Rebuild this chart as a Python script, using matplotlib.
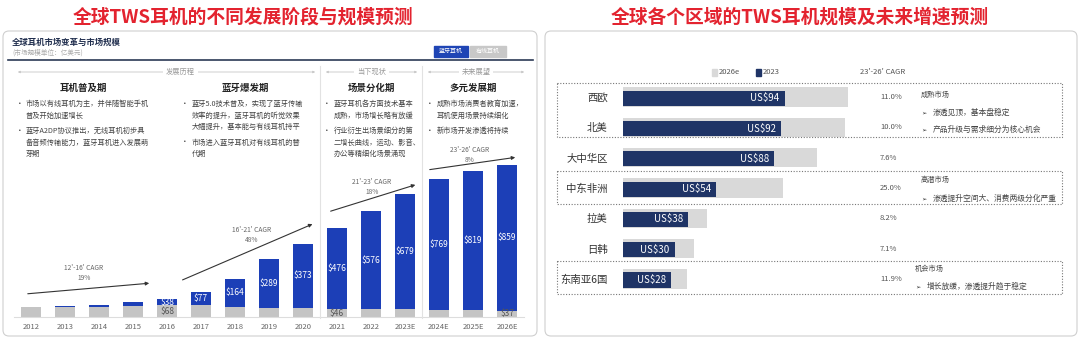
import matplotlib
matplotlib.use("Agg")
import matplotlib.pyplot as plt
from matplotlib import transforms
from matplotlib.patches import FancyBboxPatch, Rectangle

plt.rcParams["font.family"] = ["Noto Sans CJK SC", "DejaVu Sans"]

# ---- left panel data (market size, 100M USD) ----
years = ["2012", "2013", "2014", "2015", "2016", "2017", "2018", "2019", "2020",
         "2021", "2022", "2023E", "2024E", "2025E", "2026E"]
bluetooth = [0, 4, 12, 20, 38, 77, 164, 289, 373, 476, 576, 679, 769, 819, 859]
wired = [57, 60, 60, 66, 68, 70, 60, 53, 55, 46, 47, 45, 41, 39, 37]
wired_shown = ["2016", "2021", "2026E"]

stage_titles = ["耳机普及期", "蓝牙爆发期", "场景分化期", "多元发展期"]
stage_bullets = [
    [["市场以有线耳机为主，并伴随智能手机", "普及开始加速增长"],
     ["蓝牙A2DP协议推出，无线耳机初步具", "备音频传输能力，蓝牙耳机进入发展萌", "芽期"]],
    [["蓝牙5.0技术普及，实现了蓝牙传输", "效率的提升，蓝牙耳机的听觉效果", "大幅提升，基本能与有线耳机持平"],
     ["市场进入蓝牙耳机对有线耳机的替", "代期"]],
    [["蓝牙耳机各方面技术基本", "成熟，市场增长略有放缓"],
     ["行业衍生出场景细分的第", "二增长曲线，运动、影音、", "办公等精细化场景涌现"]],
    [["成熟市场消费者教育加速，", "耳机使用场景持续细化"],
     ["新市场开发渗透将持续"]],
]
cagr_labels = ["12'-16' CAGR\n19%", "16'-21' CAGR\n48%", "21'-23' CAGR\n18%", "23'-26' CAGR\n8%"]

# ---- right panel data (US$ 100M) ----
regions = ["西欧", "北美", "大中华区", "中东非洲", "拉美", "日韩", "东南亚6国"]
size_2023 = [94, 92, 88, 54, 38, 30, 28]
size_2026 = [131, 129, 113, 93, 49, 41, 37]
region_cagr = ["11.0%", "10.0%", "7.6%", "25.0%", "8.2%", "7.1%", "11.9%"]

W, H = 1080, 340
fig = plt.figure(figsize=(10.8, 3.4), dpi=100)
fig.patch.set_facecolor("white")

BLUE = "#1c3fb7"
LGRAY = "#c4c4c4"
NAVY = "#1f3466"
RGRAY = "#d9d9d9"
RED = "#e3232f"


def px_axes(x0, y0, x1, y1):
    return fig.add_axes([x0 / W, (H - y1) / H, (x1 - x0) / W, (y1 - y0) / H])


# ---- left bar chart ----
axL = px_axes(14, 70, 524, 317)
xs = range(len(years))
axL.bar(xs, wired, width=0.56, color=LGRAY, zorder=2)
axL.bar(xs, bluetooth, width=0.56, bottom=wired, color=BLUE, zorder=2)
for i, (b, w) in enumerate(zip(bluetooth, wired)):
    if b >= 38:
        axL.text(i, w + b / 2, f"\\${b}", ha="center", va="center", color="white",
                 fontsize=6, zorder=3)
    if years[i] in wired_shown:
        axL.text(i, w / 2, f"\\${w}", ha="center", va="center", color="#555555",
                 fontsize=6, zorder=3)
axL.set_xlim(-0.5, len(years) - 0.5)
axL.set_ylim(0, 1453)
axL.set_xticks(list(xs))
axL.set_xticklabels(years, fontsize=5.5, color="#666666")
axL.tick_params(axis="x", length=0, pad=4)
axL.set_yticks([])
for s in ("top", "left", "right"):
    axL.spines[s].set_visible(False)
axL.spines["bottom"].set_color("#dddddd")
axL.patch.set_alpha(0)

# ---- right bar chart ----
axR = px_axes(623, 82, 923, 294)
ys = range(len(regions))
axR.barh(ys, size_2026, height=0.64, color=RGRAY)
axR.barh([y + 0.04 for y in ys], size_2023, height=0.5, color=NAVY)
for y, v in zip(ys, size_2023):
    axR.text(v - 3, y + 0.04, f"US\\${v}", ha="right", va="center", color="white", fontsize=7)
axR.set_xlim(0, 300 / 1.72)
axR.set_ylim(len(regions) - 0.5, -0.5)
axR.set_yticks(list(ys))
axR.set_yticklabels(regions, fontsize=7.5, color="#333333")
axR.tick_params(axis="y", length=0, pad=11)
axR.set_xticks([])
for s in axR.spines.values():
    s.set_visible(False)
axR.patch.set_alpha(0)
tr = transforms.blended_transform_factory(axR.transAxes, axR.transData)
for y, c in zip(ys, region_cagr):
    axR.text((880 - 623) / 300, y, c, transform=tr, ha="left", va="center",
             fontsize=5.5, color="#555555")

# ---- overlay for frames and annotations (pixel coords) ----
ov = fig.add_axes([0, 0, 1, 1])
ov.set_xlim(0, W)
ov.set_ylim(H, 0)
ov.axis("off")
ov.patch.set_alpha(0)
ov.set_zorder(5)

for x0, x1 in ((3, 537), (545, 1077)):
    ov.add_patch(FancyBboxPatch((x0, 31), x1 - x0, 305, boxstyle="round,pad=0,rounding_size=6",
                                fill=False, ec="#cfcfcf", lw=0.8))

ov.text(243, 17, "全球TWS耳机的不同发展阶段与规模预测", ha="center", va="center",
        fontsize=13.5, fontweight="bold", color=RED)
ov.text(800, 17, "全球各个区域的TWS耳机规模及未来增速预测", ha="center", va="center",
        fontsize=13.5, fontweight="bold", color=RED)

# left header
ov.text(12, 42, "全球耳机市场变革与市场规模", ha="left", va="center", fontsize=6,
        fontweight="bold", color="#1f2d4d")
ov.text(12, 53, "(市场规模单位：亿美元)", ha="left", va="center", fontsize=4.8,
        color="#aaaaaa", style="italic")
ov.add_patch(Rectangle((434, 46), 34, 11, color="#1f45b5"))
ov.text(451, 51.5, "蓝牙耳机", ha="center", va="center", fontsize=4.3, color="white")
ov.add_patch(Rectangle((470, 46), 36, 11, color="#c8c8c8"))
ov.text(488, 51.5, "有线耳机", ha="center", va="center", fontsize=4.3, color="white")
ov.plot([8, 533], [60, 60], color="#2b3a55", lw=1.2)

# section ranges
for (x0, x1, label) in ((15, 318, "发展历程"), (323, 420, "当下现状"), (425, 527, "未来展望")):
    ov.annotate("", xy=(x0, 72), xytext=(x1, 72),
                arrowprops=dict(arrowstyle="<|-|>", color="#c8c8c8", lw=0.6, mutation_scale=3))
    ov.text((x0 + x1) / 2 + (14 if label == "发展历程" else 0), 72, label, ha="center", va="center",
            fontsize=5.2, color="#9a9a9a",
            bbox=dict(boxstyle="square,pad=0.4", fc="white", ec="none"))
for x in (320, 422):
    ov.plot([x, x], [66, 318], color="#e2e2e2", lw=0.8)

# stage text
stage_x = [(20, 26), (185, 192), (327, 334), (430, 437)]
stage_cx = [83, 245, 372, 473]
line_h = 11.5
for (bx, tx), cx, title, bullets in zip(stage_x, stage_cx, stage_titles, stage_bullets):
    ov.text(cx, 88, title, ha="center", va="center", fontsize=6.8, fontweight="bold",
            color="#222222")
    top = 104
    for para in bullets:
        ov.text(bx, top, "•", ha="center", va="center", fontsize=5.5, color="#444444")
        for k, line in enumerate(para):
            ov.text(tx, top + k * line_h, line, ha="left", va="center", fontsize=5.2,
                    color="#444444")
        top += len(para) * line_h + 4

# CAGR arrows
cagr_arrows = [((25, 294), (152, 283)), ((180, 281), (315, 223)),
               ((328, 212), (418, 184)), ((427, 170), (518, 157))]
cagr_text_pos = [(84, 273), (252, 235), (372, 187), (470, 155)]
for (s, e), (tx, ty), lab in zip(cagr_arrows, cagr_text_pos, cagr_labels):
    ov.annotate("", xy=e, xytext=s,
                arrowprops=dict(arrowstyle="-|>", color="#333333", lw=0.8, mutation_scale=5))
    ov.text(tx, ty, lab, ha="center", va="center", fontsize=4.8, color="#666666",
            linespacing=1.3)

# right legend
ov.add_patch(Rectangle((712, 68.5), 5, 7, color=RGRAY))
ov.text(719, 72, "2026e", ha="left", va="center", fontsize=5.5, color="#555555")
ov.add_patch(Rectangle((756, 68.5), 5, 7, color=NAVY))
ov.text(763, 72, "2023", ha="left", va="center", fontsize=5.5, color="#555555")
ov.text(883, 72, "23'-26' CAGR", ha="center", va="center", fontsize=5.5, color="#555555")

# dotted groups
for y0, y1 in ((83, 137), (171, 204), (261, 294)):
    ov.add_patch(Rectangle((557, y0), 505, y1 - y0, fill=False, ec="#777777", lw=0.8,
                           ls=(0, (1, 1.5))))

notes = [
    (921, 95, "成熟市场", False),
    (921, 113, "渗透见顶，基本盘稳定", True),
    (921, 130, "产品升级与需求细分为核心机会", True),
    (921, 180, "高潜市场", False),
    (921, 199, "渗透提升空间大、消费两级分化严重", True),
    (915, 269, "机会市场", False),
    (915, 287, "增长放缓，渗透提升趋于稳定", True),
]
for x, y, t, arrow in notes:
    if arrow:
        ov.text(x, y, "➢", ha="left", va="center", fontsize=4.5, color="#333333",
                family=["DejaVu Sans"])
        ov.text(x + 12, y, t, ha="left", va="center", fontsize=5.6, color="#444444")
    else:
        ov.text(x, y, t, ha="left", va="center", fontsize=5.2, color="#444444")

fig.savefig("out.png", dpi=100)
